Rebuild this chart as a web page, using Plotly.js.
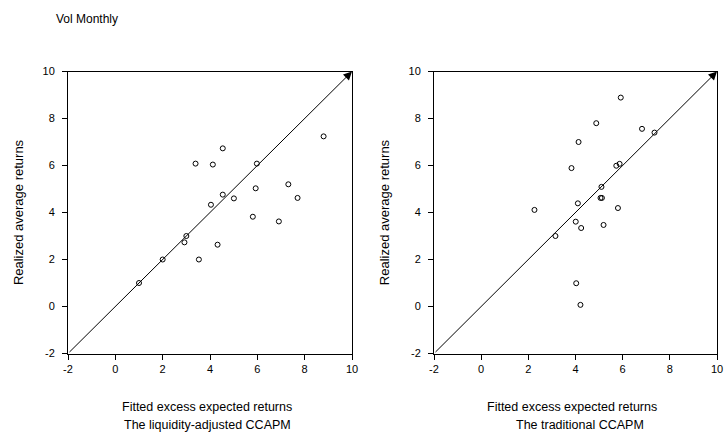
<!DOCTYPE html>
<html>
<head>
<meta charset="utf-8">
<script src="https://cdn.plot.ly/plotly-3.0.1.min.js"></script>
<style>html,body{margin:0;padding:0;background:#fff;}#chart{width:725px;height:434px;}</style>
</head>
<body>
<div id="chart"></div>
<script>
// Left panel: liquidity-adjusted CCAPM
const liqFitted = [1.0, 2.0, 3.0, 2.92, 3.53, 4.32, 4.04, 4.54, 5.01, 3.39, 4.12, 4.54, 5.98, 5.93, 5.81, 6.91, 7.31, 7.70, 8.80];
const liqRealized = [1.0, 2.0, 3.0, 2.73, 2.0, 2.63, 4.33, 4.76, 4.60, 6.08, 6.04, 6.73, 6.08, 5.03, 3.82, 3.62, 5.20, 4.62, 7.24];
// Right panel: traditional CCAPM
const tradFitted = [5.92, 4.88, 6.82, 7.35, 4.13, 3.83, 5.73, 5.87, 5.10, 5.06, 5.12, 4.10, 2.26, 5.80, 4.01, 4.24, 5.19, 3.15, 4.03, 4.21];
const tradRealized = [8.89, 7.80, 7.56, 7.40, 7.00, 5.89, 5.99, 6.07, 5.09, 4.62, 4.62, 4.39, 4.11, 4.19, 3.61, 3.34, 3.47, 3.00, 0.99, 0.07];
// 45-degree reference line
const diagonal = [-2, 10];
const tickVals = [-2, 0, 2, 4, 6, 8, 10];
const tickText = ["-2", "0", "2", "4", "6", "8", "10"];
const superTitle = "Vol Monthly";
const yTitle = "Realized average returns";
const xTitle = "Fitted excess expected returns";
const panelNames = ["The liquidity-adjusted CCAPM", "The traditional CCAPM"];

const FAM = "Liberation Sans, Arial, sans-serif";
const TICKFONT = {family: FAM, size: 11, color: "#000"};
const XTFONT = {family: FAM, size: 12.5, color: "#000"};
const YTFONT = {family: FAM, size: 13, color: "#000"};
const SUPFONT = {family: FAM, size: 12, color: "#000"};
const W = 725, H = 434;

const marker = {symbol: "circle-open", size: 5, color: "#000", line: {width: 1, color: "#000"}};
const traces = [
  {x: liqFitted, y: liqRealized, mode: "markers", type: "scatter", marker: marker, xaxis: "x", yaxis: "y", hoverinfo: "x+y"},
  {x: tradFitted, y: tradRealized, mode: "markers", type: "scatter", marker: marker, xaxis: "x2", yaxis: "y2", hoverinfo: "x+y"}
];

function axis(domain, anchor, isY) {
  const a = {
    domain: domain, anchor: anchor, range: [diagonal[0], diagonal[1]],
    tickmode: "array", tickvals: tickVals, ticktext: tickText,
    ticks: "outside", ticklen: 5, tickwidth: 1, tickcolor: "#000",
    showline: true, mirror: true, linecolor: "#000", linewidth: 1,
    showgrid: false, zeroline: false, automargin: false, fixedrange: true,
    tickfont: TICKFONT
  };
  if (isY) {
    a.ticklabelstandoff = 5;
    a.title = {text: yTitle, font: YTFONT, standoff: 15};
  }
  return a;
}

const yDom = [1 - 353.5 / H, 1 - 71.5 / H];
const layout = {
  width: W, height: H,
  margin: {l: 0, r: 0, t: 0, b: 0},
  paper_bgcolor: "#fff", plot_bgcolor: "#fff",
  showlegend: false,
  font: TICKFONT,
  xaxis: axis([68 / W, 352 / W], "y", false),
  yaxis: axis(yDom, "x", true),
  xaxis2: axis([434 / W, 717 / W], "y2", false),
  yaxis2: axis(yDom, "x2", true),
  annotations: [
    {text: superTitle, xref: "paper", yref: "paper", x: 54 / W, y: 1 - 19 / H, xanchor: "left", yanchor: "middle", showarrow: false, font: SUPFONT},
    {x: diagonal[1], y: diagonal[1], ax: diagonal[0], ay: diagonal[0], xref: "x", yref: "y", axref: "x", ayref: "y", text: "", showarrow: true, arrowhead: 2, arrowsize: 1.7, arrowwidth: 1, arrowcolor: "#000", standoff: 0},
    {x: diagonal[1], y: diagonal[1], ax: diagonal[0], ay: diagonal[0], xref: "x2", yref: "y2", axref: "x2", ayref: "y2", text: "", showarrow: true, arrowhead: 2, arrowsize: 1.7, arrowwidth: 1, arrowcolor: "#000", standoff: 0},
    {text: xTitle, xref: "paper", yref: "paper", x: 207 / W, y: 1 - 407 / H, xanchor: "center", yanchor: "middle", showarrow: false, font: XTFONT},
    {text: panelNames[0], xref: "paper", yref: "paper", x: 207 / W, y: 1 - 425 / H, xanchor: "center", yanchor: "middle", showarrow: false, font: XTFONT},
    {text: xTitle, xref: "paper", yref: "paper", x: 572 / W, y: 1 - 407 / H, xanchor: "center", yanchor: "middle", showarrow: false, font: XTFONT},
    {text: panelNames[1], xref: "paper", yref: "paper", x: 580 / W, y: 1 - 425 / H, xanchor: "center", yanchor: "middle", showarrow: false, font: XTFONT}
  ]
};

Plotly.newPlot("chart", traces, layout, {displayModeBar: false, staticPlot: true});
</script>
</body>
</html>
